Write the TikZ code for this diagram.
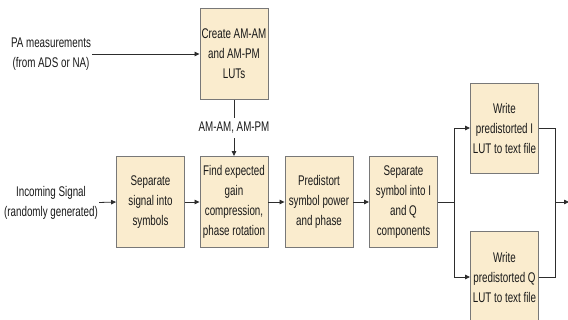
\documentclass[tikz,border=0pt]{standalone}
\usepackage{fontspec}
\setmainfont{Liberation Sans}[FakeStretch=0.7]
\usetikzlibrary{arrows.meta,positioning}
\definecolor{boxfill}{RGB}{250,236,206}
\definecolor{boxline}{RGB}{120,120,120}
\definecolor{wire}{RGB}{45,45,45}
\newcommand\dpdfont{\fontsize{14}{20}\selectfont}

\begin{document}
\begin{tikzpicture}[x=1pt,y=-1pt,
  blk/.style={rectangle,draw=boxline,fill=boxfill,line width=0.9pt,minimum width=68pt,minimum height=91pt,inner sep=1pt,align=center,font=\dpdfont,text=black!90},
  lbl/.style={align=center,font=\dpdfont,text=black!90,inner sep=1pt},
  ln/.style={draw=wire,line width=0.8pt},
  arr/.style={ln,-{Triangle[length=5pt,width=4.5pt]}}]
 \useasboundingbox (0,0) rectangle (568,320);
 \clip (0,0) rectangle (568,320);
 % LUT creation
 \node[blk] (create) at (234,54) {Create AM-AM\\ and AM-PM\\ LUTs};
 \node[lbl] (pa) at (51,54) {PA measurements\\ (from ADS or NA)};
 \draw[arr] (pa.east) -- (create.west);
 % main chain
 \node[lbl] (insig) at (51,202.5) {Incoming Signal\\ (randomly generated)};
 \node[blk] (sepsig) at (150.5,202) {Separate\\ signal into\\ symbols};
 \node[blk] (find) at (234,202) {Find expected\\ gain\\ compression,\\ phase rotation};
 \node[blk] (pred) at (319,202) {Predistort\\ symbol power\\ and phase};
 \node[blk] (sepsym) at (403.5,202) {Separate\\ symbol into I\\ and Q\\ components};
 \draw[arr] (insig.east) -- (sepsig.west);
 \draw[arr] (sepsig) -- (find);
 \draw[arr] (find) -- (pred);
 \draw[arr] (pred) -- (sepsym);
 \draw[arr] (create) -- node[lbl,fill=white,inner sep=4pt] {AM-AM, AM-PM} (find);
 % I and Q branches
 \node[blk,minimum height=90pt] (writei) at (504.5,128) {Write\\ predistorted I\\ LUT to text file};
 \node[blk,minimum height=92pt] (writeq) at (504.5,277) {Write\\ predistorted Q\\ LUT to text file};
 \coordinate (split) at (454,202);
 \coordinate (merge) at (555,202);
 \coordinate (out) at (569,202);
 \draw[ln] (sepsym) -- (split);
 \draw[arr] (split) |- (writei);
 \draw[arr] (split) |- (writeq);
 \draw[ln] (writei) -| (merge);
 \draw[ln] (writeq) -| (merge);
 \draw[arr] (merge) -- (out);
\end{tikzpicture}
\end{document}
